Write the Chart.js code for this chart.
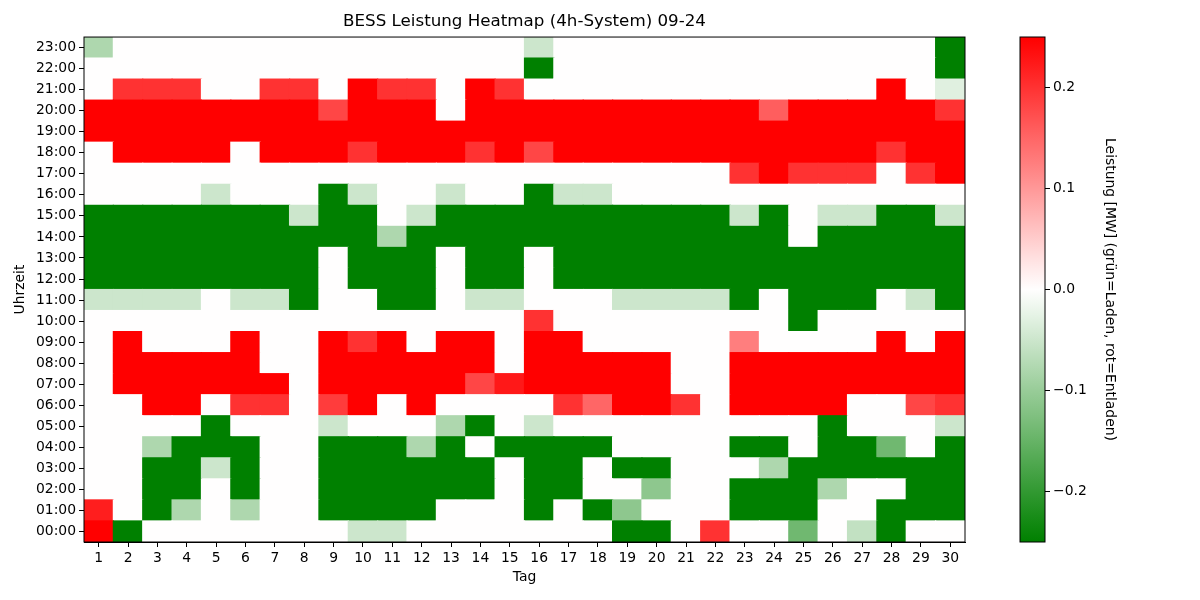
<!DOCTYPE html>
<html>
<head>
<meta charset="utf-8">
<title>BESS Leistung Heatmap</title>
<script src="https://cdn.jsdelivr.net/npm/chart.js@4"></script>
<style>
  body { margin: 0; background: #fff; }
  #wrap { position: relative; width: 1200px; height: 600px; background: #fff; }
  #wrap canvas { position: absolute; top: 0; }
  #heat { left: 0; }
  #cbar { left: 1000px; }
</style>
</head>
<body>
<div id="wrap">
  <canvas id="heat" width="1200" height="600"></canvas>
  <canvas id="cbar" width="200" height="600"></canvas>
</div>
<script>
// ---- data: power in MW per hour (rows) and day 1..30 (columns) ----
var days = ['1','2','3','4','5','6','7','8','9','10','11','12','13','14','15',
            '16','17','18','19','20','21','22','23','24','25','26','27','28','29','30'];
var hourLabels = ['00:00','01:00','02:00','03:00','04:00','05:00','06:00','07:00',
                  '08:00','09:00','10:00','11:00','12:00','13:00','14:00','15:00',
                  '16:00','17:00','18:00','19:00','20:00','21:00','22:00','23:00'];
var cbTicks = [-0.2, -0.1, 0, 0.1, 0.2];
var vmin = -0.25, vmax = 0.25;

var h00 = [0.25,-0.25,0,0,0,0,0,0,0,-0.05,-0.05,0,0,0,0,0,0,0,-0.25,-0.25,0,0.2,0,0,-0.14,0,-0.06,-0.25,0,0];
var h01 = [0.22,0,-0.25,-0.08,0,-0.08,0,0,-0.25,-0.25,-0.25,-0.25,0,0,0,-0.25,0,-0.25,-0.11,0,0,0,-0.25,-0.25,-0.25,0,0,-0.25,-0.25,-0.25];
var h02 = [0,0,-0.25,-0.25,0,-0.25,0,0,-0.25,-0.25,-0.25,-0.25,-0.25,-0.25,0,-0.25,-0.25,0,0,-0.11,0,0,-0.25,-0.25,-0.25,-0.08,0,0,-0.25,-0.25];
var h03 = [0,0,-0.25,-0.25,-0.05,-0.25,0,0,-0.25,-0.25,-0.25,-0.25,-0.25,-0.25,0,-0.25,-0.25,0,-0.25,-0.25,0,0,0,-0.08,-0.25,-0.25,-0.25,-0.25,-0.25,-0.25];
var h04 = [0,0,-0.08,-0.25,-0.25,-0.25,0,0,-0.25,-0.25,-0.25,-0.08,-0.25,0,-0.25,-0.25,-0.25,-0.25,0,0,0,0,-0.25,-0.25,0,-0.25,-0.25,-0.14,0,-0.25];
var h05 = [0,0,0,0,-0.25,0,0,0,-0.05,0,0,0,-0.08,-0.25,0,-0.05,0,0,0,0,0,0,0,0,0,-0.25,0,0,0,-0.05];
var h06 = [0,0,0.25,0.25,0,0.2,0.2,0,0.19,0.25,0,0.25,0,0,0,0,0.2,0.15,0.25,0.25,0.2,0,0.25,0.25,0.25,0.25,0,0,0.18,0.2];
var h07 = [0,0.25,0.25,0.25,0.25,0.25,0.25,0,0.25,0.25,0.25,0.25,0.25,0.18,0.225,0.25,0.25,0.25,0.25,0.25,0,0,0.25,0.25,0.25,0.25,0.25,0.25,0.25,0.25];
var h08 = [0,0.25,0.25,0.25,0.25,0.25,0,0,0.25,0.25,0.25,0.25,0.25,0.25,0,0.25,0.25,0.25,0.25,0.25,0,0,0.25,0.25,0.25,0.25,0.25,0.25,0.25,0.25];
var h09 = [0,0.25,0,0,0,0.25,0,0,0.25,0.2,0.25,0,0.25,0.25,0,0.25,0.25,0,0,0,0,0,0.125,0,0,0,0,0.25,0,0.25];
var h10 = [0,0,0,0,0,0,0,0,0,0,0,0,0,0,0,0.2,0,0,0,0,0,0,0,0,-0.25,0,0,0,0,0];
var h11 = [-0.05,-0.05,-0.05,-0.05,0,-0.05,-0.05,-0.25,0,0,-0.25,-0.25,0,-0.05,-0.05,0,0,0,-0.05,-0.05,-0.05,-0.05,-0.25,0,-0.25,-0.25,-0.25,0,-0.05,-0.25];
var h12 = [-0.25,-0.25,-0.25,-0.25,-0.25,-0.25,-0.25,-0.25,0,-0.25,-0.25,-0.25,0,-0.25,-0.25,0,-0.25,-0.25,-0.25,-0.25,-0.25,-0.25,-0.25,-0.25,-0.25,-0.25,-0.25,-0.25,-0.25,-0.25];
var h13 = [-0.25,-0.25,-0.25,-0.25,-0.25,-0.25,-0.25,-0.25,0,-0.25,-0.25,-0.25,0,-0.25,-0.25,0,-0.25,-0.25,-0.25,-0.25,-0.25,-0.25,-0.25,-0.25,-0.25,-0.25,-0.25,-0.25,-0.25,-0.25];
var h14 = [-0.25,-0.25,-0.25,-0.25,-0.25,-0.25,-0.25,-0.25,-0.25,-0.25,-0.08,-0.25,-0.25,-0.25,-0.25,-0.25,-0.25,-0.25,-0.25,-0.25,-0.25,-0.25,-0.25,-0.25,0,-0.25,-0.25,-0.25,-0.25,-0.25];
var h15 = [-0.25,-0.25,-0.25,-0.25,-0.25,-0.25,-0.25,-0.05,-0.25,-0.25,0,-0.05,-0.25,-0.25,-0.25,-0.25,-0.25,-0.25,-0.25,-0.25,-0.25,-0.25,-0.05,-0.25,0,-0.05,-0.05,-0.25,-0.25,-0.05];
var h16 = [0,0,0,0,-0.05,0,0,0,-0.25,-0.05,0,0,-0.05,0,0,-0.25,-0.05,-0.05,0,0,0,0,0,0,0,0,0,0,0,0];
var h17 = [0,0,0,0,0,0,0,0,0,0,0,0,0,0,0,0,0,0,0,0,0,0,0.2,0.25,0.2,0.2,0.2,0,0.2,0.25];
var h18 = [0,0.25,0.25,0.25,0.25,0,0.25,0.25,0.25,0.2,0.25,0.25,0.25,0.2,0.25,0.18,0.25,0.25,0.25,0.25,0.25,0.25,0.25,0.25,0.25,0.25,0.25,0.2,0.25,0.25];
var h19 = [0.25,0.25,0.25,0.25,0.25,0.25,0.25,0.25,0.25,0.25,0.25,0.25,0.25,0.25,0.25,0.25,0.25,0.25,0.25,0.25,0.25,0.25,0.25,0.25,0.25,0.25,0.25,0.25,0.25,0.25];
var h20 = [0.25,0.25,0.25,0.25,0.25,0.25,0.25,0.25,0.18,0.25,0.25,0.25,0,0.25,0.25,0.25,0.25,0.25,0.25,0.25,0.25,0.25,0.25,0.157,0.25,0.25,0.25,0.25,0.25,0.2];
var h21 = [0,0.2,0.2,0.2,0,0,0.2,0.2,0,0.25,0.2,0.2,0,0.25,0.2,0,0,0,0,0,0,0,0,0,0,0,0,0.25,0,-0.03];
var h22 = [0,0,0,0,0,0,0,0,0,0,0,0,0,0,0,-0.25,0,0,0,0,0,0,0,0,0,0,0,0,0,-0.25];
var h23 = [-0.08,0,0,0,0,0,0,0,0,0,0,0,0,0,0,-0.05,0,0,0,0,0,0,0,0,0,0,0,0,0,-0.25];

var hourRows = [h00,h01,h02,h03,h04,h05,h06,h07,h08,h09,h10,h11,
                h12,h13,h14,h15,h16,h17,h18,h19,h20,h21,h22,h23];

// green -> white -> red, 256 steps like the matplotlib colormap
function colorFor(v) {
  var t = (v - vmin) / (vmax - vmin);
  t = Math.max(0, Math.min(1, t));
  var x = Math.min(255, Math.floor(t * 256)) / 255;
  var r, g, b, f;
  if (x < 0.5) {
    f = x / 0.5;
    r = 255 * f; g = 128 + 127 * f; b = 255 * f;
  } else {
    f = (x - 0.5) / 0.5;
    r = 255; g = 255 * (1 - f); b = 255 * (1 - f);
  }
  return 'rgb(' + Math.round(r) + ',' + Math.round(g) + ',' + Math.round(b) + ')';
}

function fmt(v) {
  var s = Math.abs(v).toFixed(1);
  return v < -1e-9 ? '\u2212' + s : s;
}

Chart.defaults.font.family = 'DejaVu Sans';
Chart.defaults.color = '#000';
Chart.defaults.animation = false;

// box around the plot area (matplotlib spines)
var frame = {
  id: 'frame',
  afterDraw: function(chart) {
    var a = chart.chartArea, ctx = chart.ctx;
    ctx.save();
    ctx.strokeStyle = '#000';
    ctx.lineWidth = 1;
    ctx.strokeRect(a.left, a.top, a.right - a.left, a.bottom - a.top);
    ctx.restore();
  }
};

// ==================================== heatmap ====================================
var heatSets = hourRows.map(function(row, h) {
  return {
    label: hourLabels[h],
    data: days.map(function() { return [h, h + 1]; }),
    backgroundColor: row.map(colorFor),
    borderWidth: 0,
    inflateAmount: 0.6,
    barPercentage: 1,
    categoryPercentage: 1,
    grouped: false
  };
});

new Chart(document.getElementById('heat'), {
  type: 'bar',
  data: { labels: days, datasets: heatSets },
  plugins: [frame],
  options: {
    responsive: false,
    layout: { padding: { left: 0, right: 235, top: 0, bottom: 0 } },
    plugins: {
      legend: { display: false },
      tooltip: { enabled: false },
      title: {
        display: true,
        fullSize: false,
        text: 'BESS Leistung Heatmap (4h-System) 09-24',
        font: { size: 16.7, weight: 'normal' },
        color: '#000',
        padding: { top: 12, bottom: 5 }
      }
    },
    scales: {
      x: {
        offset: true,
        grid: { offset: false, drawOnChartArea: false, tickLength: 5, color: '#000', lineWidth: 1 },
        border: { display: true, color: '#000', width: 1 },
        ticks: { font: { size: 13.9 }, padding: 3, maxRotation: 0, autoSkip: false },
        title: { display: true, text: 'Tag', font: { size: 13.9 }, padding: { bottom: 14.7 } },
        afterFit: function(scale) { scale.height = 58; }
      },
      y: {
        min: 0,
        max: 24,
        afterBuildTicks: function(scale) {
          scale.ticks = hourLabels.map(function(_, i) { return { value: i + 0.5 }; });
        },
        grid: { drawOnChartArea: false, tickLength: 5, color: '#000', lineWidth: 1 },
        border: { display: true, color: '#000', width: 1 },
        ticks: {
          font: { size: 13.9 },
          padding: 3,
          autoSkip: false,
          callback: function(value) { return hourLabels[Math.floor(value)]; }
        },
        title: { display: true, text: 'Uhrzeit', font: { size: 13.9 }, padding: { top: 12 } },
        afterFit: function(scale) { scale.width = 84; }
      }
    }
  }
});

// ==================================== colour bar ====================================
new Chart(document.getElementById('cbar'), {
  type: 'bar',
  data: {
    labels: ['cb'],
    datasets: [{
      data: [[vmin, vmax]],
      borderWidth: 0,
      barPercentage: 1,
      categoryPercentage: 1,
      backgroundColor: function(context) {
        var a = context.chart.chartArea;
        if (!a) return 'white';
        var g = context.chart.ctx.createLinearGradient(0, a.bottom, 0, a.top);
        for (var i = 0; i <= 20; i++) {
          var v = vmin + (vmax - vmin) * i / 20;
          g.addColorStop(i / 20, colorFor(v));
        }
        return g;
      }
    }]
  },
  plugins: [frame],
  options: {
    responsive: false,
    layout: { padding: { left: 20, right: 0, top: 37, bottom: 58 } },
    plugins: { legend: { display: false }, tooltip: { enabled: false } },
    scales: {
      x: { display: false, offset: true },
      y: {
        position: 'right',
        min: vmin,
        max: vmax,
        afterBuildTicks: function(scale) {
          scale.ticks = cbTicks.map(function(v) { return { value: v }; });
        },
        grid: { drawOnChartArea: false, tickLength: 5, color: '#000', lineWidth: 1 },
        border: { display: false },
        ticks: { font: { size: 13.9 }, padding: 3, callback: function(v) { return fmt(v); } },
        title: {
          display: true,
          text: 'Leistung [MW] (grün=Laden, rot=Entladen)',
          font: { size: 13.9 },
          padding: { top: 81.7 }
        },
        afterFit: function(scale) { scale.width = 155; }
      }
    }
  }
});
</script>
</body>
</html>
